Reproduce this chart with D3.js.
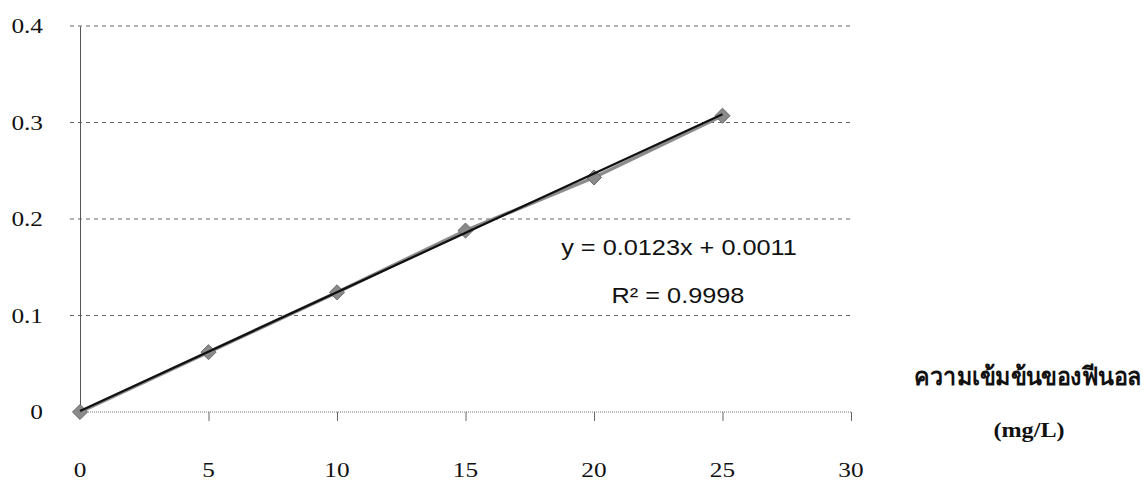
<!DOCTYPE html>
<html>
<head>
<meta charset="utf-8">
<script src="https://cdn.jsdelivr.net/npm/d3@7/dist/d3.min.js"></script>
<style>
  html, body { margin: 0; padding: 0; background: #ffffff; }
  svg { display: block; }
</style>
</head>
<body>
<svg id="chart" width="1146" height="484"></svg>
<script>
// Phenol calibration: absorbance vs concentration
const concentrations = [0, 5, 10, 15, 20, 25];
const absorbance = [0.000, 0.062, 0.124, 0.188, 0.243, 0.307];
const xTicks = [0, 5, 10, 15, 20, 25, 30];
const yTicks = [0, 0.1, 0.2, 0.3, 0.4];
const yTickLabels = ["0", "0.1", "0.2", "0.3", "0.4"];
const fitSlope = 0.0123;
const fitIntercept = 0.0011;
const fitR2 = "0.9998";
const titleLines = ["ความเข้มข้นของฟีนอล", "(mg/L)"];

const svg = d3.select("#chart");

const x = d3.scaleLinear().domain([0, 30]).range([80, 851]);
const y = d3.scaleLinear().domain([0, 0.4]).range([412, 26]);

const serif = "'Liberation Serif', 'Times New Roman', serif";
const sans = "'Liberation Sans', Arial, sans-serif";
const stretch = 1.15; // glyphs are set slightly wide

// dashed horizontal gridlines
svg.append("g")
  .selectAll("line")
  .data(yTicks.filter(v => v > 0))
  .join("line")
  .attr("x1", x(0) - 10).attr("x2", x(30))
  .attr("y1", d => y(d)).attr("y2", d => y(d))
  .attr("stroke", "#666")
  .attr("stroke-width", 1)
  .attr("stroke-dasharray", "4,4");

// x axis (baseline with downward ticks)
const xAxis = d3.axisBottom(x).tickValues(xTicks).tickSize(9).tickFormat("");
const gx = svg.append("g").attr("transform", `translate(0,${y(0)})`).call(xAxis);
gx.select(".domain").attr("stroke", "#777").attr("stroke-dasharray", "1,1").attr("d", `M${x(0)},0H${x(30)}`);
gx.selectAll(".tick line").attr("stroke", "#666");
gx.selectAll(".tick").filter(d => d === 0).remove();

// y axis line
const yAxis = d3.axisLeft(y).tickValues(yTicks).tickSize(0).tickFormat("");
const gy = svg.append("g").attr("transform", `translate(${x(0)},0)`).call(yAxis);
gy.select(".domain").attr("stroke", "#555").attr("stroke-width", 1);

// y tick labels
svg.append("g")
  .selectAll("text")
  .data(yTicks)
  .join("text")
  .attr("transform", d => `translate(43,${y(d) + 7}) scale(${stretch},1)`)
  .attr("text-anchor", "end")
  .attr("font-family", serif)
  .attr("font-size", 22)
  .attr("fill", "#111")
  .text((d, i) => yTickLabels[i]);

// x tick labels
svg.append("g")
  .selectAll("text")
  .data(xTicks)
  .join("text")
  .attr("transform", d => `translate(${x(d)},477) scale(${stretch},1)`)
  .attr("text-anchor", "middle")
  .attr("font-family", serif)
  .attr("font-size", 22)
  .attr("fill", "#111")
  .text(d => d);

// series line joining measured points
const line = d3.line().x((d, i) => x(concentrations[i])).y(d => y(d));
svg.append("path")
  .datum(absorbance)
  .attr("d", line)
  .attr("fill", "none")
  .attr("stroke", "#8c8c8c")
  .attr("stroke-width", 3.5);

// markers: gray diamonds
svg.append("g")
  .selectAll("path")
  .data(absorbance)
  .join("path")
  .attr("d", d3.symbol().type(d3.symbolDiamond2 || d3.symbolSquare).size(145))
  .attr("transform", (d, i) => `translate(${x(concentrations[i])},${y(d)}) rotate(${d3.symbolDiamond2 ? 0 : 45})`)
  .attr("fill", "#8a8a8a")
  .attr("stroke", "#6a6a6a")
  .attr("stroke-width", 1);

// linear trendline
const fitX = [0, 25];
svg.append("path")
  .datum(fitX)
  .attr("d", d3.line().x(d => x(d)).y(d => y(fitSlope * d + fitIntercept)))
  .attr("fill", "none")
  .attr("stroke", "#111")
  .attr("stroke-width", 2.3);

// regression equation and R²
svg.append("text")
  .attr("transform", `translate(679,255) scale(${stretch},1)`)
  .attr("text-anchor", "middle")
  .attr("font-family", sans)
  .attr("font-size", 22)
  .attr("fill", "#111")
  .text(`y = ${fitSlope}x + ${fitIntercept}`);
svg.append("text")
  .attr("transform", `translate(678,303) scale(${stretch},1)`)
  .attr("text-anchor", "middle")
  .attr("font-family", sans)
  .attr("font-size", 22)
  .attr("fill", "#111")
  .text(`R² = ${fitR2}`);

// axis title
svg.append("text")
  .attr("transform", "translate(1028,385) scale(0.93,1)")
  .attr("text-anchor", "middle")
  .attr("font-family", serif)
  .attr("font-weight", "bold")
  .attr("font-size", 25)
  .attr("fill", "#111")
  .text(titleLines[0]);
svg.append("text")
  .attr("transform", `translate(1029,437) scale(${stretch},1)`)
  .attr("text-anchor", "middle")
  .attr("font-family", serif)
  .attr("font-weight", "bold")
  .attr("font-size", 21)
  .attr("fill", "#111")
  .text(titleLines[1]);
</script>
</body>
</html>
